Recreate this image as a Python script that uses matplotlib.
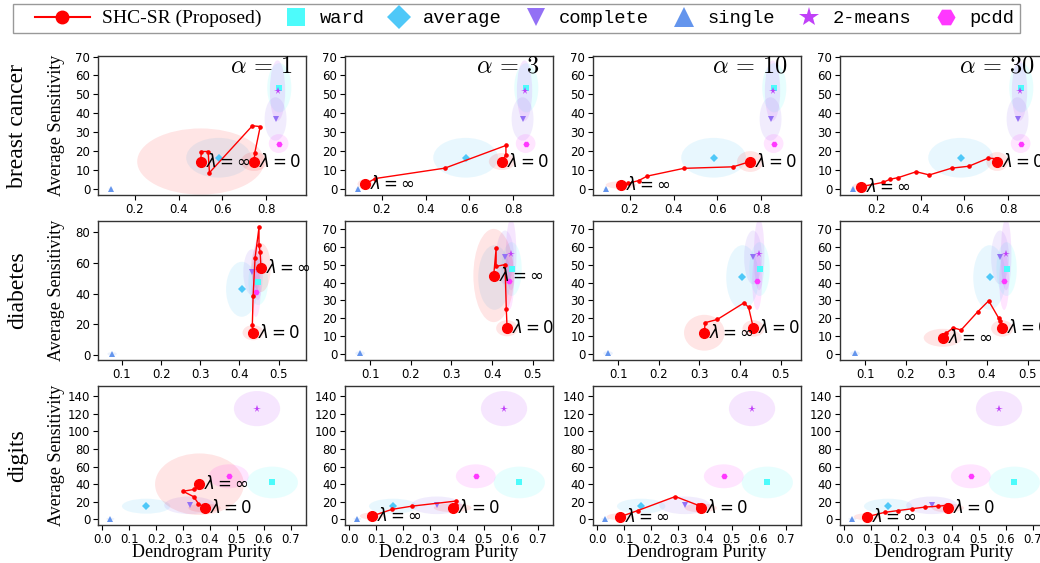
import matplotlib
matplotlib.use("Agg")
import matplotlib.pyplot as plt
from matplotlib.patches import Ellipse
from matplotlib.lines import Line2D
from matplotlib.legend_handler import HandlerLine2D
from matplotlib.font_manager import FontProperties

# ---------------------------------------------------------------- data
methods = ["ward", "average", "complete", "single", "2-means", "pcdd"]
method_colors = ["#4dfbfb", "#4fc8f8", "#9370f5", "#6495ed", "#c040f8", "#ff38ff"]
method_markers = ["s", "D", "v", "^", "*", "H"]
method_ms = [4.5, 4.0, 4.5, 4.5, 5.5, 4.5]

datasets = ["breast cancer", "diabetes", "digits"]
alphas = [1, 3, 10, 30]

# baselines: mean purity / mean sensitivity and their spreads
bc_purity = [0.860, 0.583, 0.843, 0.090, 0.852, 0.857]
bc_sens = [53.5, 16.5, 37.0, 0.0, 52.0, 24.0]
bc_purity_sd = [0.055, 0.148, 0.050, 0.010, 0.035, 0.045]
bc_sens_sd = [13.0, 10.5, 11.5, 0.8, 16.0, 5.0]

db_purity = [0.448, 0.406, 0.432, 0.075, 0.447, 0.442]
db_sens = [47.5, 42.8, 54.0, 0.5, 55.7, 40.7]
db_purity_sd = [0.025, 0.040, 0.022, 0.012, 0.013, 0.012]
db_sens_sd = [15.0, 18.0, 15.0, 1.2, 20.0, 16.0]

dg_purity = [0.632, 0.163, 0.325, 0.030, 0.575, 0.470]
dg_sens = [42.0, 15.0, 16.0, 0.5, 126.0, 49.0]
dg_purity_sd = [0.095, 0.090, 0.095, 0.015, 0.086, 0.074]
dg_sens_sd = [18.0, 8.5, 10.0, 1.5, 20.0, 13.6]

# SHC-SR regularisation paths, from lambda = 0 (first) to lambda = inf (last)
bc_a1_purity = [0.745, 0.748, 0.773, 0.737, 0.541, 0.535, 0.504, 0.501]
bc_a1_sens = [14.5, 19.0, 33.0, 33.4, 8.6, 19.8, 19.8, 14.5]
bc_a3_purity = [0.749, 0.767, 0.767, 0.488, 0.170, 0.124]
bc_a3_sens = [14.5, 18.0, 23.0, 11.0, 5.5, 2.6]
bc_a10_purity = [0.750, 0.672, 0.447, 0.280, 0.240, 0.193, 0.160]
bc_a10_sens = [14.5, 11.7, 10.9, 6.8, 4.4, 3.0, 2.1]
bc_a30_purity = [0.750, 0.745, 0.710, 0.620, 0.542, 0.440, 0.380, 0.298, 0.260, 0.229, 0.129]
bc_a30_sens = [14.5, 16.0, 16.3, 12.0, 11.0, 7.4, 9.1, 6.0, 5.1, 3.5, 1.2]

db_a1_purity = [0.435, 0.433, 0.435, 0.440, 0.450, 0.450, 0.453, 0.455]
db_a1_sens = [14.4, 19.2, 38.5, 63.4, 83.3, 71.7, 66.9, 57.0]
db_a3_purity = [0.437, 0.435, 0.432, 0.410, 0.410, 0.404]
db_a3_sens = [14.5, 25.5, 50.0, 49.0, 59.0, 43.9]
db_a10_purity = [0.433, 0.421, 0.410, 0.344, 0.314, 0.312]
db_a10_sens = [14.4, 26.1, 28.7, 19.4, 17.6, 12.0]
db_a30_purity = [0.437, 0.431, 0.429, 0.404, 0.377, 0.336, 0.317, 0.299, 0.291]
db_a30_sens = [14.4, 18.7, 20.0, 29.8, 23.7, 13.5, 14.8, 11.7, 9.2]

dg_a1_purity = [0.380, 0.357, 0.340, 0.300, 0.340, 0.361]
dg_a1_sens = [13.0, 18.0, 25.7, 32.0, 34.0, 40.0]
dg_a3_purity = [0.384, 0.396, 0.396, 0.234, 0.159, 0.084]
dg_a3_sens = [13.2, 16.3, 20.8, 15.1, 11.4, 3.8]
dg_a10_purity = [0.385, 0.375, 0.290, 0.150, 0.085]
dg_a10_sens = [13.0, 16.0, 26.0, 10.0, 3.0]
dg_a30_purity = [0.385, 0.380, 0.350, 0.300, 0.250, 0.200, 0.150, 0.085]
dg_a30_sens = [13.0, 16.0, 15.0, 14.0, 12.0, 10.0, 8.0, 3.0]

# spread of the two end points: (purity sd, sens sd) at lambda=0 and lambda=inf
bc_end_sd = [(0.06, 5.0, 0.29, 17.5), (0.06, 4.5, 0.035, 2.5),
             (0.06, 5.5, 0.07, 2.0), (0.05, 5.0, 0.04, 2.0)]
db_end_sd = [(0.027, 5.0, 0.025, 16.0), (0.027, 4.5, 0.05, 26.0),
             (0.027, 4.6, 0.05, 10.0), (0.027, 4.6, 0.047, 5.0)]
dg_end_sd = [(0.06, 5.0, 0.165, 35.0), (0.07, 5.0, 0.045, 4.0),
             (0.06, 5.0, 0.05, 4.0), (0.06, 5.0, 0.05, 4.0)]

baselines = {
    "breast cancer": (bc_purity, bc_sens, bc_purity_sd, bc_sens_sd),
    "diabetes": (db_purity, db_sens, db_purity_sd, db_sens_sd),
    "digits": (dg_purity, dg_sens, dg_purity_sd, dg_sens_sd),
}
paths = {
    "breast cancer": [(bc_a1_purity, bc_a1_sens), (bc_a3_purity, bc_a3_sens),
                      (bc_a10_purity, bc_a10_sens), (bc_a30_purity, bc_a30_sens)],
    "diabetes": [(db_a1_purity, db_a1_sens), (db_a3_purity, db_a3_sens),
                 (db_a10_purity, db_a10_sens), (db_a30_purity, db_a30_sens)],
    "digits": [(dg_a1_purity, dg_a1_sens), (dg_a3_purity, dg_a3_sens),
               (dg_a10_purity, dg_a10_sens), (dg_a30_purity, dg_a30_sens)],
}
end_sd = {"breast cancer": bc_end_sd, "diabetes": db_end_sd, "digits": dg_end_sd}

x_limits = {"breast cancer": [(0.032, 0.982)] * 4,
            "diabetes": [(0.039, 0.57)] + [(0.038, 0.55)] * 3,
            "digits": [(-0.016, 0.757)] * 4}
y_limits = {"breast cancer": [(-3.2, 70.3)] * 4,
            "diabetes": [(-3.5, 87.5)] + [(-3.2, 74.3)] * 3,
            "digits": [(-6.4, 151.7)] * 4}
x_ticks = {"breast cancer": [0.2, 0.4, 0.6, 0.8],
           "diabetes": [0.1, 0.2, 0.3, 0.4, 0.5],
           "digits": [0.0, 0.1, 0.2, 0.3, 0.4, 0.5, 0.6, 0.7]}
y_ticks = {"breast cancer": [list(range(0, 71, 10))] * 4,
           "diabetes": [list(range(0, 81, 20))] + [list(range(0, 71, 10))] * 3,
           "digits": [list(range(0, 141, 20))] * 4}

# ---------------------------------------------------------------- layout
W, H = 1040, 563
fig = plt.figure(figsize=(W / 100, H / 100), dpi=100)
col_left = [98, 345, 593, 840]
row_top = [56, 221, 386]
ax_w, ax_h = 208, 139
serif = "Liberation Serif"
SHC_RED = "#ff0000"

for r, ds in enumerate(datasets):
    bx, by, bsx, bsy = baselines[ds]
    for c, a in enumerate(alphas):
        ax = fig.add_axes([col_left[c] / W, 1 - (row_top[r] + ax_h) / H,
                           ax_w / W, ax_h / H])
        # baseline spreads and means
        for i in range(len(methods)):
            ax.add_patch(Ellipse((bx[i], by[i]), 2 * bsx[i], 2 * bsy[i],
                                 facecolor=method_colors[i], alpha=0.13,
                                 lw=0, zorder=1))
        for i in range(len(methods)):
            ax.plot(bx[i], by[i], ls="none", marker=method_markers[i],
                    ms=method_ms[i], color=method_colors[i],
                    markeredgewidth=0, zorder=3)
        # SHC-SR path
        px, py = paths[ds][c]
        sx0, sy0, sxi, syi = end_sd[ds][c]
        ax.add_patch(Ellipse((px[0], py[0]), 2 * sx0, 2 * sy0,
                             facecolor=SHC_RED, alpha=0.1, lw=0, zorder=1))
        ax.add_patch(Ellipse((px[-1], py[-1]), 2 * sxi, 2 * syi,
                             facecolor=SHC_RED, alpha=0.1, lw=0, zorder=1))
        ax.plot(px, py, "-", color=SHC_RED, lw=1.0, marker="o", ms=2.3, zorder=4)
        ax.plot([px[0], px[-1]], [py[0], py[-1]], ls="none", marker="o",
                ms=7, color=SHC_RED, zorder=5)
        ax.annotate(r"$\lambda = 0$", (px[0], py[0]), xytext=(5, 0),
                    textcoords="offset pixels", ha="left", va="center",
                    fontsize=12, zorder=6)
        ax.annotate(r"$\lambda = \infty$", (px[-1], py[-1]), xytext=(5, 0),
                    textcoords="offset pixels", ha="left", va="center",
                    fontsize=12, zorder=6)

        ax.set_xlim(*x_limits[ds][c])
        ax.set_ylim(*y_limits[ds][c])
        ax.set_xticks(x_ticks[ds])
        ax.set_yticks(y_ticks[ds][c])
        ax.tick_params(labelsize=8.5, length=3.5, width=0.8, pad=2)
        for sp in ax.spines.values():
            sp.set_color("#333333")
            sp.set_linewidth(1.0)

        if r == 0:
            ax.text(0.933, 0.93, r"$\alpha\,=\,%d$" % a, transform=ax.transAxes,
                    ha="right", va="center", fontsize=17.5, math_fontfamily="cm")
        if c == 0:
            ax.set_ylabel("Average Sensitivity", family=serif, fontsize=13)
            ax.yaxis.set_label_coords(-0.158, 0.5)
            fig.text(18 / W, 1 - (row_top[r] + ax_h / 2) / H, ds, rotation=90,
                     ha="center", va="center", family=serif, fontsize=17)
        if r == 2:
            ax.set_xlabel("Dendrogram Purity", family=serif, fontsize=13)
            ax.xaxis.set_label_coords(0.5, -0.135)

# ---------------------------------------------------------------- legend
class MarkerAt(HandlerLine2D):
    """Places legend markers at given fractions of the handle box."""

    def __init__(self, fracs, **kw):
        super().__init__(**kw)
        self.fracs = fracs

    def get_xdata(self, legend, xdescent, ydescent, width, height, fontsize):
        xs = [-xdescent + f * width for f in self.fracs]
        return xs, xs


legend_ms = [13, 12, 13, 14, 15, 13]
handles = [Line2D([], [], color=SHC_RED, lw=1.5, marker="o", ms=9)]
for i in range(len(methods)):
    handles.append(Line2D([], [], ls="none", marker=method_markers[i],
                          ms=legend_ms[i], color=method_colors[i],
                          markeredgewidth=0))
labels = ["SHC-SR (Proposed)"] + methods
hmap = {handles[0]: MarkerAt([0.21, 0.934])}
for h in handles[1:]:
    hmap[h] = MarkerAt([0.78])

fs = 13.5
leg = fig.legend(handles, labels, handler_map=hmap, ncol=7,
                 loc="upper left", bbox_to_anchor=(13 / W, 1 - 4 / H),
                 borderaxespad=0, prop=FontProperties(family="Liberation Mono", size=fs),
                 handlelength=76 / (fs * 100 / 72), handletextpad=0.37,
                 columnspacing=-1.33, borderpad=0.32, fancybox=False,
                 framealpha=1, edgecolor="#999999")
leg.get_frame().set_linewidth(1.0)
leg.get_texts()[0].set_fontfamily(serif)
leg.get_texts()[0].set_fontsize(14)

fig.savefig("out.png", dpi=100)
